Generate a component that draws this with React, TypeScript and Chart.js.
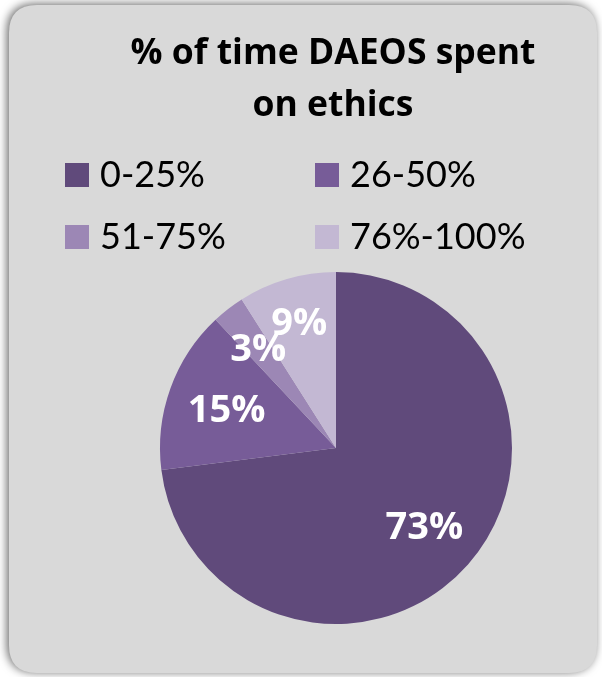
import React, { useEffect, useRef } from "react";
import { Chart, registerables } from "chart.js";

Chart.register(...registerables);

const categories = ["0-25%", "26-50%", "51-75%", "76%-100%"];
const values = [73, 15, 3, 9];
const titleLines = ["% of time DAEOS spent", "on ethics"];
const colors = ["#604a7b", "#775c98", "#9c87b5", "#c3b8d3"];

const LABEL_RADIUS = [0.67, 0.66, 0.72, 0.75];

function roundRect(ctx: CanvasRenderingContext2D, x: number, y: number, w: number, h: number, r: number) {
  ctx.beginPath();
  ctx.moveTo(x + r, y);
  ctx.lineTo(x + w - r, y);
  ctx.quadraticCurveTo(x + w, y, x + w, y + r);
  ctx.lineTo(x + w, y + h - r);
  ctx.quadraticCurveTo(x + w, y + h, x + w - r, y + h);
  ctx.lineTo(x + r, y + h);
  ctx.quadraticCurveTo(x, y + h, x, y + h - r);
  ctx.lineTo(x, y + r);
  ctx.quadraticCurveTo(x, y, x + r, y);
  ctx.closePath();
}

const backgroundPlugin = {
  id: "bgBox",
  beforeDraw(chart: any) {
    const ctx = chart.ctx as CanvasRenderingContext2D;
    ctx.save();
    ctx.fillStyle = "#ffffff";
    ctx.fillRect(0, 0, chart.width, chart.height);
    ctx.shadowColor = "rgba(0,0,0,0.6)";
    ctx.shadowBlur = 10;
    ctx.shadowOffsetX = -2;
    ctx.shadowOffsetY = -1;
    roundRect(ctx, 9, 5, 588, 668, 28);
    ctx.fillStyle = "#d9d9d9";
    ctx.fill();
    ctx.restore();
  },
};

const titlePlugin = {
  id: "titleText",
  afterDraw(chart: any) {
    const ctx = chart.ctx as CanvasRenderingContext2D;
    const baselines = [64, 116];
    ctx.save();
    ctx.font = "bold 35.5px 'Open Sans'";
    ctx.fillStyle = "#000000";
    ctx.textAlign = "center";
    ctx.textBaseline = "alphabetic";
    titleLines.forEach((line, i) => ctx.fillText(line, 333, baselines[i]));
    ctx.restore();
  },
};

const legendPlugin = {
  id: "gridLegend",
  afterDraw(chart: any) {
    const ctx = chart.ctx as CanvasRenderingContext2D;
    const cols = [65, 315];
    const rows = [175, 237];
    ctx.save();
    ctx.font = "36px Lato";
    ctx.textBaseline = "alphabetic";
    ctx.textAlign = "left";
    categories.forEach((label, i) => {
      const x = cols[i % 2];
      const y = rows[Math.floor(i / 2)];
      ctx.fillStyle = colors[i];
      ctx.fillRect(x, y - 12, 24, 24);
      ctx.fillStyle = "#000000";
      ctx.fillText(label, x + 35, y + 12);
    });
    ctx.restore();
  },
};

const labelPlugin = {
  id: "sliceLabels",
  afterDatasetsDraw(chart: any) {
    const ctx = chart.ctx as CanvasRenderingContext2D;
    const meta = chart.getDatasetMeta(0);
    const total = values.reduce((a, b) => a + b, 0);
    ctx.save();
    ctx.font = "bold 38px 'Open Sans'";
    ctx.fillStyle = "#ffffff";
    ctx.textAlign = "center";
    ctx.textBaseline = "alphabetic";
    meta.data.forEach((arc: any, i: number) => {
      const { x, y, startAngle, endAngle, outerRadius } = arc.getProps(
        ["x", "y", "startAngle", "endAngle", "outerRadius"],
        true
      );
      const mid = (startAngle + endAngle) / 2;
      const r = outerRadius * LABEL_RADIUS[i];
      const pct = Math.round((values[i] / total) * 100) + "%";
      ctx.fillText(pct, x + Math.cos(mid) * r, y + Math.sin(mid) * r + 13.5);
    });
    ctx.restore();
  },
};

export default function App() {
  const ref = useRef<HTMLCanvasElement | null>(null);

  useEffect(() => {
    document.body.style.margin = "0";
    if (!ref.current) return;
    const chart = new Chart(ref.current, {
      type: "pie",
      data: {
        labels: categories,
        datasets: [
          {
            data: values,
            backgroundColor: colors,
            borderWidth: 0,
          },
        ],
      },
      options: {
        responsive: false,
        animation: false,
        layout: { padding: { left: 160, right: 90, top: 272, bottom: 53 } },
        plugins: {
          legend: { display: false },
          tooltip: { enabled: false },
          title: { display: false },
        },
      },
      plugins: [backgroundPlugin, titlePlugin, legendPlugin, labelPlugin],
    });
    return () => chart.destroy();
  }, []);

  return (
    <div style={{ width: 602, height: 677 }}>
      <canvas ref={ref} width={602} height={677} />
    </div>
  );
}
